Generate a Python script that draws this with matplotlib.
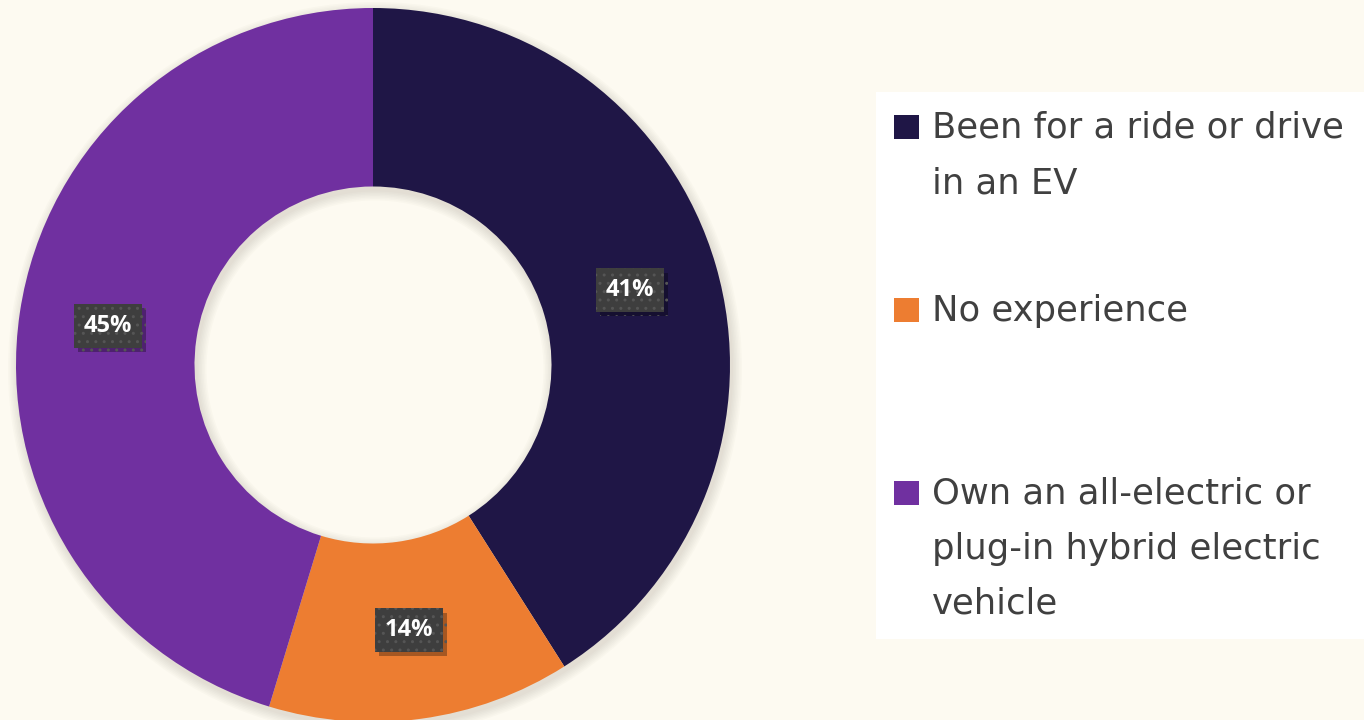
import numpy as np
import matplotlib.pyplot as plt
import matplotlib.patheffects as pe
from matplotlib.patches import Rectangle, Wedge

# data (slice sizes, labels show the rounded values)
labels = ['Been for a ride or drive\nin an EV',
          'No experience',
          'Own an all-electric or\nplug-in hybrid electric\nvehicle']
shares = [41.0, 13.7, 45.3]
colors = ['#1F1646', '#ED7D31', '#7030A0']

W, H = 1364, 720
fig = plt.figure(figsize=(W / 100, H / 100), dpi=100)
fig.patch.set_facecolor('#FDFAF1')
ax = fig.add_axes([0, 0, 1, 1])
ax.set_xlim(0, W)
ax.set_ylim(0, H)
ax.set_aspect('equal')
ax.axis('off')

cx, cy, R = 373, H - 365, 357

############ soft shadow round the ring ##################
for k in range(7):
    ax.add_patch(Wedge((cx + 2, cy - 4), R + 1 + k * 1.5, 0, 360,
                       width=R * 0.5 + 2 + k * 3.0,
                       facecolor='#8a8070', alpha=0.03, lw=0))

############ donut #######################################
wedges, texts, autotexts = ax.pie(
    shares, colors=colors, startangle=90, counterclock=False,
    center=(cx, cy), radius=R, autopct='%.0f%%', pctdistance=0.75,
    wedgeprops=dict(width=R * 0.5, linewidth=0),
    textprops=dict(color='white', fontsize=17, fontweight='bold',
                   family='Open Sans'))
for t in autotexts:
    t.set_bbox(dict(boxstyle='square,pad=0.42', facecolor='#3E3E3E',
                    edgecolor='#555555', linewidth=0, hatch='..'))
    t.get_bbox_patch().set_path_effects(
        [pe.withSimplePatchShadow(offset=(3, -3), shadow_rgbFace='black', alpha=0.3)])

ax.set_xlim(0, W)
ax.set_ylim(0, H)

############ legend box ##################################
ax.add_patch(Rectangle((876, H - 639), W - 876, 639 - 92,
                       facecolor='white', edgecolor='none', zorder=1))

first_baselines = [138, 321, 504]
line_step = 55
for lab, col, yb in zip(labels, colors, first_baselines):
    ax.add_patch(Rectangle((894, H - yb - 1), 25, 24, facecolor=col,
                           edgecolor='none', zorder=2))
    for i, line in enumerate(lab.split('\n')):
        ax.text(932, H - (yb + i * line_step), line, fontsize=25.5,
                family='DejaVu Sans', color='#404040', va='baseline',
                ha='left', zorder=3)

fig.savefig('out.png', dpi=100, facecolor=fig.get_facecolor())
